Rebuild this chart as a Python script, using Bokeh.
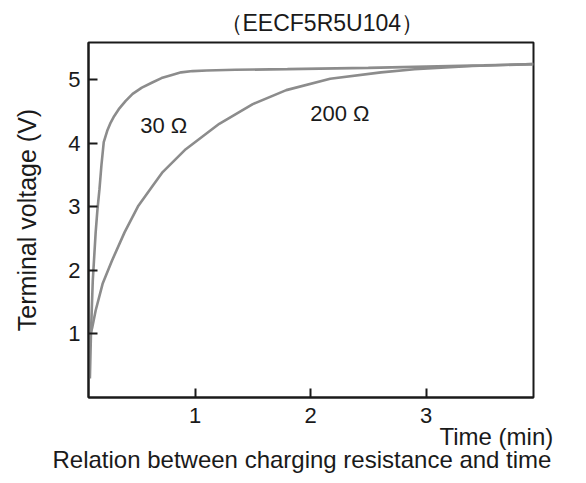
from bokeh.plotting import figure
from bokeh.models import Range1d, Label, FixedTicker, Title
from bokeh.embed import file_html
from bokeh.resources import INLINE

# ---- texts ----
TITLE = "（EECF5R5U104）"
CAPTION = "Relation between charging resistance and time"
X_LABEL = "Time (min)"
Y_LABEL = "Terminal voltage (V)"

# ---- axes ----
x_ticks = [1, 2, 3]
y_ticks = [1, 2, 3, 4, 5]
x_lo, x_hi = 0.078, 3.93
y_lo, y_hi = 0.0, 5.59

# ---- series (time in min, voltage in V) ----
time_30 = [0.090, 0.100, 0.115, 0.140, 0.155, 0.173, 0.190, 0.210, 0.240, 0.270,
           0.300, 0.340, 0.400, 0.460, 0.540, 0.630, 0.710, 0.800, 0.880, 0.980,
           1.100, 1.350, 1.800, 2.500, 3.000, 3.500, 3.930]
volt_30 = [0.30, 1.05, 1.84, 2.60, 2.95, 3.28, 3.66, 4.02, 4.20, 4.33,
           4.43, 4.54, 4.67, 4.78, 4.88, 4.96, 5.03, 5.08, 5.12, 5.14,
           5.15, 5.16, 5.17, 5.19, 5.21, 5.23, 5.25]

time_200 = [0.090, 0.110, 0.140, 0.200, 0.280, 0.390, 0.510, 0.620, 0.720, 0.920,
            1.210, 1.500, 1.790, 2.170, 2.610, 2.900, 3.400, 3.930]
volt_200 = [0.95, 1.10, 1.37, 1.79, 2.15, 2.60, 3.02, 3.30, 3.55, 3.91,
            4.31, 4.62, 4.84, 5.02, 5.12, 5.17, 5.22, 5.25]

curve_names = ["30 Ω", "200 Ω"]
name_t = [0.526, 1.997]
name_v = [4.29, 4.47]

FONT = "Liberation Sans"
INK = "#1a1a1a"
CURVE = "#8c8c8c"

p = figure(width=578, height=475,
           x_range=Range1d(x_lo, x_hi), y_range=Range1d(y_lo, y_hi),
           output_backend="svg", toolbar_location=None,
           min_border_left=88, min_border_right=45,
           min_border_top=42, min_border_bottom=78)
p.background_fill_color = "white"
p.border_fill_color = "white"
p.grid.grid_line_color = None
p.outline_line_color = INK
p.outline_line_width = 2

for ax in (p.xaxis, p.yaxis):
    ax.axis_line_color = INK
    ax.axis_line_width = 2
    ax.major_tick_in = 9
    ax.major_tick_out = 0
    ax.major_tick_line_width = 2
    ax.major_tick_line_color = INK
    ax.minor_tick_line_color = None
    ax.major_label_text_font = FONT
    ax.major_label_text_font_size = "22px"
    ax.major_label_text_color = INK

p.xaxis.major_label_standoff = 10
p.yaxis.major_label_standoff = 8
p.xaxis.ticker = FixedTicker(ticks=x_ticks)
p.yaxis.ticker = FixedTicker(ticks=y_ticks)

p.yaxis.axis_label = Y_LABEL
p.yaxis.axis_label_text_font = FONT
p.yaxis.axis_label_text_font_size = "25px"
p.yaxis.axis_label_text_font_style = "normal"
p.yaxis.axis_label_text_color = INK
p.yaxis.axis_label_standoff = 24

p.line(time_30, volt_30, line_color=CURVE, line_width=2.6)
p.line(time_200, volt_200, line_color=CURVE, line_width=2.6)

for name, t, v in zip(curve_names, name_t, name_v):
    p.add_layout(Label(x=t, y=v, text=name, text_font=FONT, text_font_size="22px",
                       text_color=INK, text_baseline="alphabetic", text_align="left"))

top_title = Title(text=TITLE, align="left", offset=131, vertical_align="bottom",
                  standoff=13, text_font=FONT, text_font_size="23px",
                  text_font_style="normal", text_color=INK)
p.add_layout(top_title, "above")

time_title = Title(text=X_LABEL, align="left", offset=351, vertical_align="top",
                   standoff=-6, text_font=FONT, text_font_size="24px",
                   text_font_style="normal", text_color=INK)
p.add_layout(time_title, "below")

caption = Title(text=CAPTION, align="left", offset=-36, vertical_align="top",
                standoff=-6, text_font=FONT, text_font_size="24px",
                text_font_style="normal", text_color=INK)
p.add_layout(caption, "below")

open("out.html", "w").write(file_html(p, INLINE))
